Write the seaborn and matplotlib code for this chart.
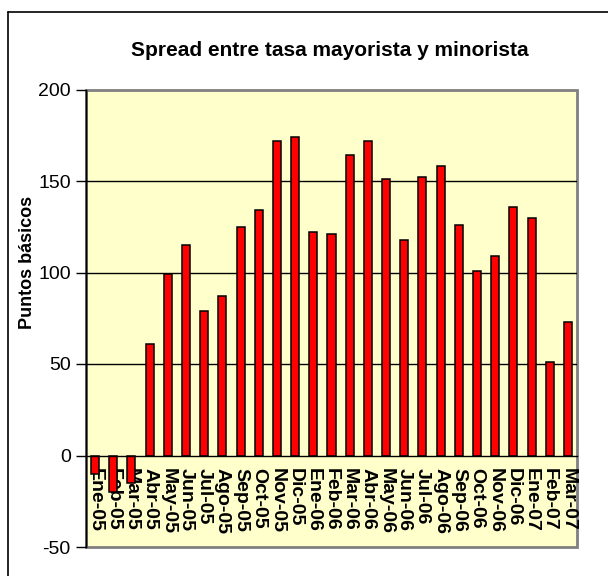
import matplotlib
matplotlib.use("Agg")
import matplotlib.pyplot as plt
from matplotlib.lines import Line2D
from matplotlib.patches import Rectangle
import seaborn as sns
import pandas as pd
import numpy as np

# Monthly spread between wholesale and retail rates (basis points)
months = ["Ene-05", "Feb-05", "Mar-05", "Abr-05", "May-05", "Jun-05", "Jul-05",
          "Ago-05", "Sep-05", "Oct-05", "Nov-05", "Dic-05", "Ene-06", "Feb-06",
          "Mar-06", "Abr-06", "May-06", "Jun-06", "Jul-06", "Ago-06", "Sep-06",
          "Oct-06", "Nov-06", "Dic-06", "Ene-07", "Feb-07", "Mar-07"]
spread = [-10, -20, -15, 61, 99, 115, 79, 87, 125, 134, 172, 174, 122, 121,
          164, 172, 151, 118, 152, 158, 126, 101, 109, 136, 130, 51, 73]
y_ticks = [-50, 0, 50, 100, 150, 200]

title = "Spread entre tasa mayorista y minorista"
y_label = "Puntos básicos"

sns.set_theme(style="white")
plt.rcParams["font.family"] = ["Liberation Sans", "DejaVu Sans"]
plt.rcParams.update({"text.color": "black", "axes.labelcolor": "black",
                     "xtick.color": "black", "ytick.color": "black"})

df = pd.DataFrame({"mes": months, "spread": spread})

fig = plt.figure(figsize=(6.08, 5.76), dpi=100)
W, H = 608, 576
ax = fig.add_axes([86 / W, 1 - 547 / H, (577 - 86) / W, (547 - 89.5) / H])

ax.set_facecolor("#FFFFCC")
sns.barplot(data=df, x="mes", y="spread", color="#FF0000", saturation=1,
            edgecolor="black", linewidth=1.1, width=0.44, ax=ax, zorder=3)

ax.set_ylim(-50, 200)
ax.set_xlim(-0.5, len(months) - 0.5)
ax.set_yticks(y_ticks)
ax.set_yticklabels([str(v) for v in y_ticks], fontsize=14)

# horizontal gridlines
for v in [50, 100, 150]:
    ax.axhline(v, color="black", lw=1.0, zorder=1)

# category axis sits on the zero line
ax.spines["bottom"].set_position(("data", 0))
ax.spines["bottom"].set_color("black")
ax.spines["bottom"].set_linewidth(1.0)
ax.spines["bottom"].set_zorder(4)
ax.spines["left"].set_color("black")
ax.spines["left"].set_linewidth(1.0)
for s in ["top", "right"]:
    ax.spines[s].set_visible(False)

# gray frame around the plot area
ax.add_patch(Rectangle((0, 0), 1, 1, transform=ax.transAxes, fill=False,
                       edgecolor="#808080", lw=2.0, zorder=0.5, clip_on=False))
ax.plot([0, 0], [0, 1], transform=ax.transAxes, color="black", lw=1.0,
        zorder=5, clip_on=False)

ax.set_xticks(np.arange(len(months)))
ax.set_xticklabels(months, rotation=270, fontsize=14, fontweight="bold",
                   va="top", ha="center")
ax.tick_params(axis="x", which="major", length=0, pad=9)
ax.set_xticks(np.arange(len(months) + 1) - 0.5, minor=True)
ax.tick_params(axis="x", which="minor", length=3.5, width=1, color="black",
               direction="out")
ax.tick_params(axis="y", length=7, width=1, color="black", direction="out",
               left=True, pad=4)
for lbl in ax.get_xticklabels():
    lbl.set_zorder(6)

ax.set_xlabel("")
ax.set_ylabel(y_label, fontsize=13, fontweight="bold", labelpad=0)
ax.yaxis.set_label_coords(36 / W, 1 - 262 / H, transform=fig.transFigure)

fig.text(330 / W, 1 - 50 / H, title, ha="center", va="center",
         fontsize=15, fontweight="bold")

# outer chart frame
fig.add_artist(Line2D([8 / W, 8 / W], [0, 1 - 12 / H], color="black", lw=1.2))
fig.add_artist(Line2D([8 / W, 1], [1 - 12 / H, 1 - 12 / H], color="black", lw=1.2))

fig.savefig("out.png", dpi=100)
